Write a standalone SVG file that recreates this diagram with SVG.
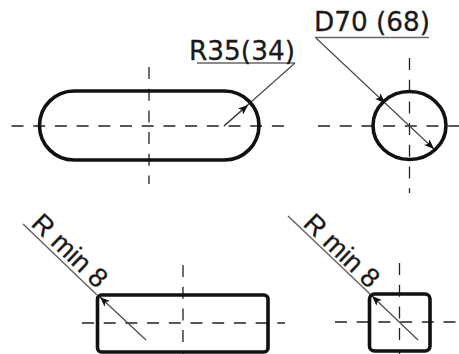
<svg xmlns="http://www.w3.org/2000/svg" width="459" height="354" viewBox="0 0 459 354">
<style>
.o{fill:none;stroke:#111;stroke-width:3.6}
.c{fill:none;stroke:#222;stroke-width:1.3;stroke-dasharray:12 9.700}
.l{fill:none;stroke:#444;stroke-width:1.100}
.u{fill:none;stroke:#666;stroke-width:1.500}
text{font-family:"Liberation Sans",Arial,sans-serif;fill:#1a1a1a;stroke:#1a1a1a;stroke-width:.3}
.h{font-family:"DejaVu Sans","Liberation Sans",sans-serif;font-size:26px}
.d{font-size:27px}
</style>
<defs>
<marker id="a" viewBox="0 0 10 8" refX="10" refY="4" markerWidth="10" markerHeight="8" markerUnits="userSpaceOnUse" orient="auto-start-reverse"><path d="M0 0L10 4L0 8L2.500 4Z" fill="#111"/></marker>
</defs>
<g id="connectors">
<path class="c" d="M11.500 126H287"/>
<path class="c" d="M149 67V184"/>
<path class="c" d="M318 126H459"/>
<path class="c" d="M409.500 58V193"/>
<path class="c" d="M82 323H285"/>
<path class="c" d="M183 265V354"/>
<path class="c" d="M335 322H458"/>
<path class="c" d="M399.500 263V354"/>
<path class="u" d="M197 63H295"/>
<path class="l" d="M295 63L224 126"/>
<path class="l" d="M224 126L248 105" marker-end="url(#a)"/>
<path class="u" d="M315 37.500H429"/>
<path class="l" d="M316 38L385 103" marker-end="url(#a)"/>
<path class="l" d="M385 103L434 149" marker-end="url(#a)"/>
<path class="u" d="M23 224L97 295"/>
<path class="l" d="M146 340L100 297" marker-end="url(#a)"/>
<path class="u" d="M288 216L370 294"/>
<path class="l" d="M418 340L372 296" marker-end="url(#a)"/>
</g>
<g id="slot"><rect class="o" x="39.500" y="91" width="219.500" height="69" rx="34.500"/></g>
<g id="circle"><ellipse class="o" cx="409.500" cy="125.500" rx="36.500" ry="34"/></g>
<g id="rect-wide"><rect class="o" x="97.500" y="295" width="170.500" height="57" rx="4"/></g>
<g id="rect-square"><rect class="o" x="369.500" y="294" width="60.500" height="57" rx="5"/></g>
<g id="label-r35"><text class="h" x="189" y="60" textLength="106" lengthAdjust="spacingAndGlyphs">R35(34)</text></g>
<g id="label-d70"><text class="h" x="314" y="31" textLength="116" lengthAdjust="spacingAndGlyphs">D70 (68)</text></g>
<g id="label-rmin-left"><text class="d" transform="translate(30 225) rotate(43.800)" textLength="93" lengthAdjust="spacingAndGlyphs">R min 8</text></g>
<g id="label-rmin-right"><text class="d" transform="translate(302 225) rotate(43.800)" textLength="93" lengthAdjust="spacingAndGlyphs">R min 8</text></g>
</svg>
